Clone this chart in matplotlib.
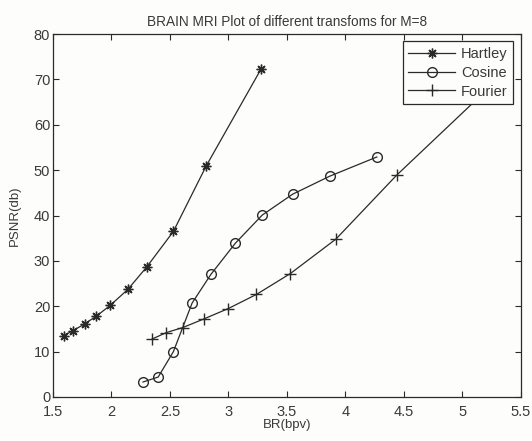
import matplotlib
matplotlib.use("Agg")
import matplotlib.pyplot as plt

plt.rcParams['font.family'] = ['Liberation Sans', 'DejaVu Sans']

hartley_x = [1.59, 1.67, 1.77, 1.87, 1.99, 2.14, 2.30, 2.53, 2.81, 3.28]
hartley_y = [13.5, 14.6, 16.1, 17.8, 20.2, 23.7, 28.6, 36.5, 50.9, 72.3]

cosine_x = [2.27, 2.40, 2.53, 2.69, 2.85, 3.06, 3.29, 3.55, 3.87, 4.27]
cosine_y = [3.3, 4.4, 10.0, 20.7, 27.0, 33.9, 40.1, 44.7, 48.7, 52.9]

fourier_x = [2.35, 2.47, 2.61, 2.79, 3.00, 3.24, 3.53, 3.92, 4.44, 5.35]
fourier_y = [12.8, 14.2, 15.3, 17.2, 19.5, 22.6, 27.2, 34.8, 48.9, 71.1]

xticks = [1.5, 2, 2.5, 3, 3.5, 4, 4.5, 5, 5.5]
yticks = [0, 10, 20, 30, 40, 50, 60, 70, 80]

ink = '#2a2a2a'
txt = '#3a3a3a'

fig = plt.figure(figsize=(5.32, 4.41), dpi=100)
fig.patch.set_facecolor('#fdfdfb')
ax = fig.add_axes([0.0996, 0.0998, 0.879, 0.823])
ax.set_facecolor('#fdfdfb')

ax.plot(hartley_x, hartley_y, color=ink, lw=0.9, marker=(8, 2, 0), ms=7, mew=1.0, label='Hartley')
ax.plot(cosine_x, cosine_y, color=ink, lw=0.9, marker='o', ms=7, mfc='none', mew=1.0, label='Cosine')
ax.plot(fourier_x, fourier_y, color=ink, lw=0.9, marker='+', ms=8, mew=1.0, label='Fourier')

ax.set_xlim(1.5, 5.5)
ax.set_ylim(0, 80)
ax.set_xticks(xticks)
ax.set_xticklabels([f'{t:g}' for t in xticks])
ax.set_yticks(yticks)
ax.tick_params(direction='in', top=True, right=True, length=4, width=0.8,
               colors=ink, labelcolor=txt, labelsize=10.5, pad=2)
ax.tick_params(axis='x', pad=5.5)
for s in ax.spines.values():
    s.set_color(ink)
    s.set_linewidth(0.9)

ax.set_xlabel('BR(bpv)', fontsize=9.5, color=txt, labelpad=0)
ax.set_ylabel('PSNR(db)', fontsize=9.5, color=txt, labelpad=9)
ax.set_title('BRAIN MRI Plot of different transfoms for M=8', fontsize=9.8, color=txt, pad=6)

leg = ax.legend(loc='upper right', fontsize=10.5, frameon=True, fancybox=False,
                edgecolor=ink, framealpha=1, handlelength=3.2, borderpad=0.4,
                labelspacing=0.32, handletextpad=0.4, borderaxespad=0.5)
leg.get_frame().set_linewidth(0.9)
leg.get_frame().set_facecolor('#fdfdfb')
for t in leg.get_texts():
    t.set_color(txt)

fig.savefig('out.png', dpi=100, facecolor=fig.get_facecolor())
